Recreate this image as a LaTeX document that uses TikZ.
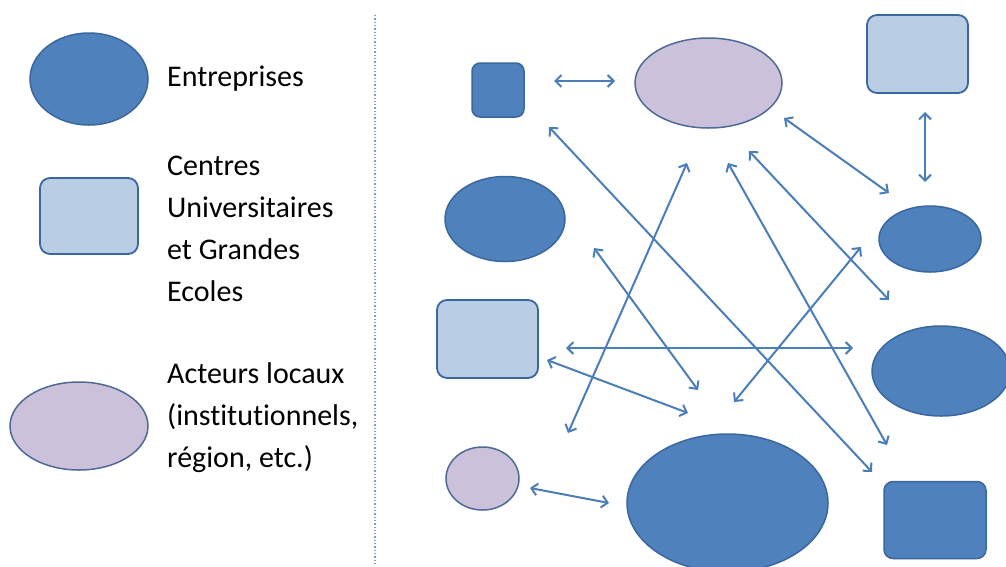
\documentclass[tikz,border=0pt]{standalone}
\usepackage{fontspec}
\setmainfont[Ligatures=NoCommon]{Carlito}
\usetikzlibrary{arrows.meta,shapes.geometric}
\definecolor{dkfill}{HTML}{4F81BD}
\definecolor{dkline}{HTML}{3A679E}
\definecolor{ltfill}{HTML}{B9CDE5}
\definecolor{lvfill}{HTML}{CCC1DA}
\definecolor{lvline}{HTML}{4E6A94}
\definecolor{arr}{HTML}{4A7EBB}
\definecolor{divc}{HTML}{7F9FCF}
\tikzset{
  ent/.style={ellipse, draw=dkline, fill=dkfill, line width=1.5pt, inner sep=0pt},
  entbox/.style={rectangle, rounded corners=9pt, draw=dkline, fill=dkfill, line width=1.5pt, inner sep=0pt},
  univ/.style={rectangle, rounded corners=10pt, draw=dkline, fill=ltfill, line width=1.8pt, inner sep=0pt},
  loc/.style={ellipse, draw=lvline, fill=lvfill, line width=1.5pt, inner sep=0pt},
  lbl/.style={inner sep=0pt, align=left, font=\fontsize{30}{42}\selectfont, text=black},
  link/.style={draw=arr, line width=2pt, {Straight Barb[length=6pt,width=12pt]}-{Straight Barb[length=6pt,width=12pt]}},
  divider/.style={draw=divc, line width=1.3pt, dotted}
}
\begin{document}
\begin{tikzpicture}[x=1pt,y=-1pt]
\useasboundingbox (0,0) rectangle (1006,566);
\clip (0,0) rectangle (1006,566);
% legend
\node[ent, minimum width=118pt, minimum height=92pt] (legE) at (89,79) {};
\node[univ, minimum width=98pt, minimum height=76pt] (legC) at (89,216) {};
\node[loc, minimum width=138pt, minimum height=88pt] (legA) at (79,426) {};
\node[lbl, anchor=west] (tE) at (167,79) {Entreprises};
\node[lbl, anchor=west] (tC) at (167,229) {Centres\\Universitaires\\et Grandes\\Ecoles};
\node[lbl, anchor=west] (tA) at (167,418) {Acteurs locaux\\(institutionnels,\\région, etc.)};
\coordinate (dv1) at (375,15);
\coordinate (dv2) at (375,566);
\draw[divider] (dv1) -- (dv2);
% network
\node[entbox, minimum width=52pt, minimum height=54pt, rounded corners=8pt] (A) at (498,90) {};
\node[loc, minimum width=147pt, minimum height=90pt] (B) at (708.5,83) {};
\node[univ, minimum width=101pt, minimum height=78pt] (C) at (917.5,54) {};
\node[ent, minimum width=120pt, minimum height=85pt] (D) at (505,219) {};
\node[ent, minimum width=102pt, minimum height=66pt] (E) at (930,239) {};
\node[univ, minimum width=101pt, minimum height=78pt] (F) at (487.5,339) {};
\node[ent, minimum width=138pt, minimum height=90pt] (G) at (941,371) {};
\node[loc, minimum width=73pt, minimum height=63pt] (H) at (482.5,478.5) {};
\node[ent, minimum width=201pt, minimum height=138pt] (I) at (727.5,503) {};
\node[entbox, minimum width=102pt, minimum height=77pt] (J) at (935,520) {};
% arrow end points
\coordinate (a1) at (554,81);  \coordinate (a2) at (615,81);
\coordinate (b1) at (549,127); \coordinate (b2) at (872,472);
\coordinate (c1) at (784,118); \coordinate (c2) at (889,193);
\coordinate (d1) at (925,112); \coordinate (d2) at (925,182);
\coordinate (e1) at (687,163); \coordinate (e2) at (568,433);
\coordinate (f1) at (728,163); \coordinate (f2) at (887,445);
\coordinate (g1) at (749,151); \coordinate (g2) at (889,300);
\coordinate (h1) at (594,248); \coordinate (h2) at (698,390);
\coordinate (i1) at (861,247); \coordinate (i2) at (734,402);
\coordinate (j1) at (566,348); \coordinate (j2) at (853,348);
\coordinate (k1) at (547,360); \coordinate (k2) at (688,413);
\coordinate (l1) at (530,488); \coordinate (l2) at (609,503);
\foreach \p in {a,b,c,d,e,f,g,h,i,j,k,l}{\draw[link] (\p1) -- (\p2);}
\end{tikzpicture}
\end{document}
